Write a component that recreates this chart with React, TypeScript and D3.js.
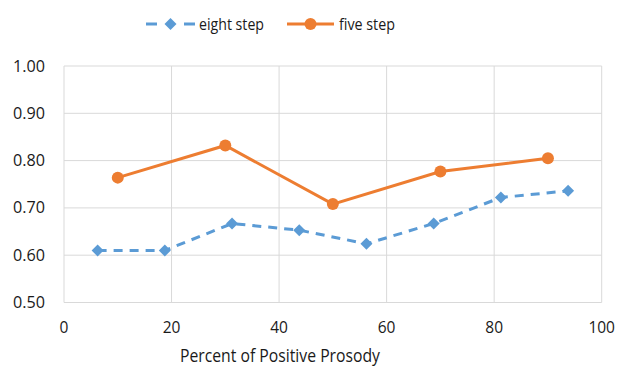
import React from "react";
import * as d3 from "d3";

const eightX = [6.25, 18.75, 31.25, 43.75, 56.25, 68.75, 81.25, 93.75];
const eightY = [0.61, 0.61, 0.667, 0.653, 0.624, 0.667, 0.722, 0.736];
const fiveX = [10, 30, 50, 70, 90];
const fiveY = [0.764, 0.832, 0.708, 0.777, 0.805];
const xTicks = [0, 20, 40, 60, 80, 100];
const yTicks = [0.5, 0.6, 0.7, 0.8, 0.9, 1.0];
const seriesNames = ["eight step", "five step"];
const xTitle = "Percent of Positive Prosody";

const W = 619, H = 368;
const L = 64, R = 601.7, T = 66, B = 302.5;
const FONT = "'Open Sans', 'Noto Sans', sans-serif";
const BLUE = "#5B9BD5", ORANGE = "#ED7D31", GRID = "#d9d9d9", TEXT = "#1a1a1a";

export default function App() {
  const x = d3.scaleLinear().domain([0, 100]).range([L, R]);
  const y = d3.scaleLinear().domain([0.5, 1.0]).range([B, T]);
  const line = d3.line<[number, number]>().x(d => x(d[0])).y(d => y(d[1]));
  const eight: [number, number][] = eightX.map((v, i) => [v, eightY[i]]);
  const five: [number, number][] = fiveX.map((v, i) => [v, fiveY[i]]);
  const diamond = (cx: number, cy: number, s: number) =>
    `M${cx},${cy - s}L${cx + s},${cy}L${cx},${cy + s}L${cx - s},${cy}Z`;

  return (
    <svg width={W} height={H} style={{ position: "absolute", left: 0, top: 0 }} fontFamily={FONT}>
      <rect width={W} height={H} fill="#fff" />
      {yTicks.map(t => (
        <line key={"gy" + t} x1={L} x2={R} y1={y(t)} y2={y(t)} stroke={GRID} strokeWidth={1} />
      ))}
      {xTicks.map(t => (
        <line key={"gx" + t} x1={x(t)} x2={x(t)} y1={T} y2={B} stroke={GRID} strokeWidth={1} />
      ))}
      {yTicks.map(t => (
        <text key={"ly" + t} x={45} y={y(t) + 5.5} textAnchor="end" fontSize={15.5} fill={TEXT}
          textLength={32} lengthAdjust="spacingAndGlyphs">
          {t.toFixed(2)}
        </text>
      ))}
      {xTicks.map(t => (
        <text key={"lx" + t} x={x(t)} y={333} textAnchor="middle" fontSize={15.5} fill={TEXT}>
          {t}
        </text>
      ))}
      <text x={280} y={362} textAnchor="middle" fontSize={17.5} fill={TEXT}
        textLength={200} lengthAdjust="spacingAndGlyphs">{xTitle}</text>
      <path d={line(eight) || ""} fill="none" stroke={BLUE} strokeWidth={3} strokeDasharray="9,7" />
      {eight.map((d, i) => (
        <path key={"e" + i} d={diamond(x(d[0]), y(d[1]), 6)} fill={BLUE} />
      ))}
      <path d={line(five) || ""} fill="none" stroke={ORANGE} strokeWidth={3} />
      {five.map((d, i) => (
        <circle key={"f" + i} cx={x(d[0])} cy={y(d[1])} r={6} fill={ORANGE} />
      ))}
      <g>
        <line x1={146} x2={157} y1={24} y2={24} stroke={BLUE} strokeWidth={3} />
        <line x1={184} x2={195} y1={24} y2={24} stroke={BLUE} strokeWidth={3} />
        <path d={diamond(170.5, 24, 6)} fill={BLUE} />
        <text x={199} y={29.5} fontSize={17} fill={TEXT} textLength={65} lengthAdjust="spacingAndGlyphs">{seriesNames[0]}</text>
        <line x1={287} x2={334} y1={24} y2={24} stroke={ORANGE} strokeWidth={3} />
        <circle cx={310.5} cy={24} r={6} fill={ORANGE} />
        <text x={339} y={29.5} fontSize={17} fill={TEXT} textLength={56} lengthAdjust="spacingAndGlyphs">{seriesNames[1]}</text>
      </g>
    </svg>
  );
}
